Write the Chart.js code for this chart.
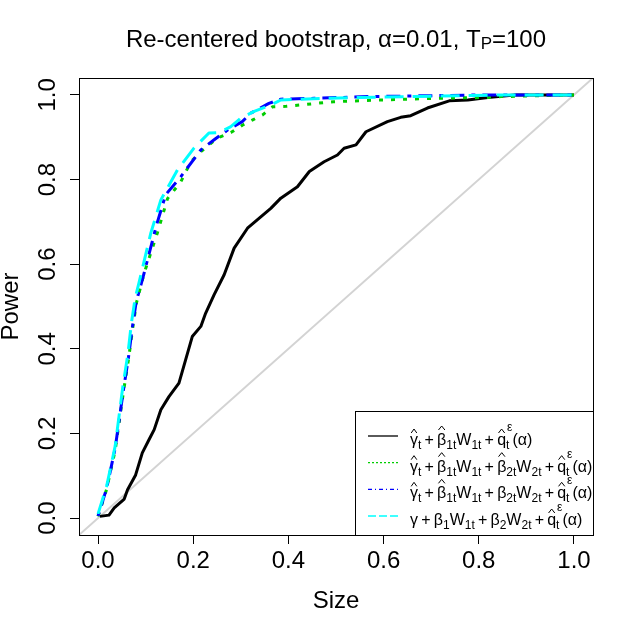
<!DOCTYPE html>
<html>
<head>
<meta charset="utf-8">
<script src="https://cdn.jsdelivr.net/npm/chart.js@4.4.1/dist/chart.umd.min.js"></script>
<style>
  html, body { margin: 0; padding: 0; background: #fff; }
  #wrap { width: 634px; height: 633px; }
</style>
</head>
<body>
<div id="wrap"><canvas id="graph" width="634" height="633"></canvas></div>
<script>
// values: size (x) and power (y) of each test
var tickValues = [0, 0.2, 0.4, 0.6, 0.8, 1];

// solid black
var sizeA = [0.004, 0.023, 0.034, 0.055, 0.062, 0.079, 0.093, 0.107, 0.118, 0.132, 0.149, 0.170, 0.184, 0.198, 0.216, 0.226, 0.244, 0.265, 0.286, 0.314, 0.363, 0.384, 0.419, 0.444, 0.475, 0.503, 0.517, 0.542, 0.563, 0.608, 0.636, 0.657, 0.692, 0.738, 0.777, 0.819, 0.875, 1.0];
var powerA = [0.004, 0.007, 0.024, 0.045, 0.067, 0.102, 0.154, 0.185, 0.209, 0.256, 0.287, 0.319, 0.374, 0.429, 0.453, 0.484, 0.528, 0.575, 0.638, 0.685, 0.732, 0.756, 0.783, 0.819, 0.842, 0.858, 0.874, 0.882, 0.913, 0.937, 0.947, 0.951, 0.969, 0.986, 0.988, 0.994, 1.0, 1.0];

// dotted green
var sizeB = [0, 0.018, 0.036, 0.053, 0.064, 0.073, 0.081, 0.097, 0.125, 0.146, 0.174, 0.195, 0.216, 0.251, 0.279, 0.304, 0.325, 0.346, 0.367, 0.395, 0.495, 0.594, 0.706, 0.819, 0.847, 1.0];
var powerB = [0.004, 0.068, 0.160, 0.295, 0.375, 0.450, 0.510, 0.579, 0.675, 0.755, 0.795, 0.842, 0.866, 0.898, 0.911, 0.929, 0.941, 0.953, 0.972, 0.973, 0.984, 0.988, 0.992, 0.994, 0.996, 1.0];

// dot-dash blue
var sizeC = [0, 0.018, 0.036, 0.053, 0.064, 0.072, 0.080, 0.094, 0.122, 0.142, 0.174, 0.216, 0.244, 0.272, 0.303, 0.321, 0.359, 0.384, 0.454, 0.566, 0.805, 1.0];
var powerC = [0.005, 0.070, 0.165, 0.300, 0.380, 0.450, 0.510, 0.567, 0.689, 0.764, 0.807, 0.870, 0.894, 0.917, 0.937, 0.957, 0.980, 0.990, 0.992, 0.996, 1.0, 1.0];

// dashed cyan
var sizeD = [0, 0.018, 0.036, 0.052, 0.063, 0.070, 0.078, 0.086, 0.111, 0.132, 0.167, 0.202, 0.233, 0.254, 0.279, 0.300, 0.328, 0.363, 0.384, 0.482, 0.594, 0.847, 1.0];
var powerD = [0.010, 0.075, 0.170, 0.310, 0.390, 0.460, 0.520, 0.556, 0.674, 0.752, 0.823, 0.875, 0.910, 0.911, 0.925, 0.945, 0.961, 0.976, 0.988, 0.992, 0.995, 1.0, 1.0];

// 45 degree reference line across the whole plot
var diagX = [-0.04, 1.04];

var font = '"Liberation Sans", Arial, sans-serif';

function pts(xs, ys) {
    return xs.map(function (v, i) { return {x: v, y: ys[i]}; });
}

// legend formulas: [text, kind, sup]; kind 'h' hat on short letter, 'H' hat on tall letter, '_' subscript
var sp = '\u2009+\u2009';
var legendRows = [
    {color: '#000000', dash: [], rows: [['γ','h'],['t','_'],[sp],['β','H'],['1t','_'],['W'],['1t','_'],[sp],['q','h'],['t','_','ε'],['(α)']]},
    {color: '#00CD00', dash: [2, 2], rows: [['γ','h'],['t','_'],[sp],['β','H'],['1t','_'],['W'],['1t','_'],[sp],['β','H'],['2t','_'],['W'],['2t','_'],[sp],['q','h'],['t','_','ε'],['(α)']]},
    {color: '#0000FF', dash: [4, 3, 1, 3], rows: [['γ','h'],['t','_'],[sp],['β','H'],['1t','_'],['W'],['1t','_'],[sp],['β'],['2t','_'],['W'],['2t','_'],[sp],['q','h'],['t','_','ε'],['(α)']]},
    {color: '#00FFFF', dash: [8, 3], rows: [['γ'],[sp],['β'],['1','_'],['W'],['1t','_'],[sp],['β'],['2','_'],['W'],['2t','_'],[sp],['q','h'],['t','_','ε'],['(α)']]}
];

function drawMath(c, parts, x, y, size) {
    var small = Math.round(size * 0.72);
    parts.forEach(function (p) {
        var txt = p[0], kind = p[1] || '';
        var w;
        if (kind === '_') {
            c.font = small + 'px ' + font;
            w = c.measureText(txt).width;
            c.fillText(txt, x, y + 4);
            if (p[2]) {
                c.fillText(p[2], x + 1, y - 14);
                w = Math.max(w, c.measureText(p[2]).width + 1);
            }
        } else {
            c.font = size + 'px ' + font;
            w = c.measureText(txt).width;
            c.fillText(txt, x, y);
            if (kind === 'h' || kind === 'H') {
                var base = y - (kind === 'H' ? 15 : 12);
                c.beginPath();
                c.moveTo(x + w * 0.15, base);
                c.lineTo(x + w * 0.5, base - 4);
                c.lineTo(x + w * 0.85, base);
                c.stroke();
            }
        }
        x += w;
    });
}

var decorations = {
    id: 'decorations',
    afterDraw: function (chart) {
        var c = chart.ctx, a = chart.chartArea;
        var ys = chart.scales.y;
        c.save();
        c.fillStyle = '#000';
        c.strokeStyle = '#000';

        // legend box
        var lx = 355, ly = 411;
        c.fillStyle = '#fff';
        c.fillRect(lx, ly, a.right - lx, a.bottom - ly);
        c.lineWidth = 1;
        c.strokeRect(lx + 0.5, ly + 0.5, a.right - lx, a.bottom - ly);
        c.fillStyle = '#000';
        legendRows.forEach(function (r, i) {
            var yy = 436 + i * 26.67;
            c.save();
            c.strokeStyle = r.color;
            c.lineWidth = 1.3;
            c.setLineDash(r.dash);
            c.beginPath();
            c.moveTo(368, yy);
            c.lineTo(398, yy);
            c.stroke();
            c.restore();
            c.lineWidth = 1;
            c.textAlign = 'left';
            c.textBaseline = 'alphabetic';
            drawMath(c, r.rows, 410, yy + 9, 16);
        });

        // plot frame
        c.lineWidth = 1;
        c.strokeRect(Math.round(a.left) + 0.5, Math.round(a.top) + 0.5, Math.round(a.right - a.left), Math.round(a.bottom - a.top));

        // y tick labels, parallel to the axis
        c.font = '24px ' + font;
        c.textAlign = 'center';
        c.textBaseline = 'alphabetic';
        tickValues.forEach(function (v) {
            c.save();
            c.translate(55, ys.getPixelForValue(v));
            c.rotate(-Math.PI / 2);
            c.fillText(v.toFixed(1), 0, 0);
            c.restore();
        });

        // axis titles
        var cx = (a.left + a.right) / 2;
        c.fillText('Size', cx, 608);
        c.save();
        c.translate(18, (a.top + a.bottom) / 2);
        c.rotate(-Math.PI / 2);
        c.fillText('Power', 0, 0);
        c.restore();

        // main title with subscript P
        var t1 = 'Re-centered bootstrap, α=0.01, T', t2 = 'P', t3 = '=100';
        c.font = '24px ' + font;
        var w1 = c.measureText(t1).width, w3 = c.measureText(t3).width;
        c.font = '17px ' + font;
        var w2 = c.measureText(t2).width;
        var x0 = cx - (w1 + w2 + w3) / 2;
        c.textAlign = 'left';
        c.font = '24px ' + font;
        c.fillText(t1, x0, 47);
        c.font = '17px ' + font;
        c.fillText(t2, x0 + w1, 49);
        c.font = '24px ' + font;
        c.fillText(t3, x0 + w1 + w2, 47);
        c.restore();
    }
};

function setTicks(axis) {
    axis.ticks = tickValues.map(function (v) { return {value: v}; });
}

var myChart = document.getElementById('graph').getContext('2d');

var sizePowerChart = new Chart(myChart, {
    type: 'line',
    data: {
        datasets: [{
            label: 'cyan',
            data: pts(sizeD, powerD),
            borderColor: '#00FFFF',
            borderDash: [19, 9],
            order: 1
        }, {
            label: 'blue',
            data: pts(sizeC, powerC),
            borderColor: '#0000FF',
            borderDash: [4, 7, 14, 7],
            order: 2
        }, {
            label: 'green',
            data: pts(sizeB, powerB),
            borderColor: '#00CD00',
            borderDash: [4, 8],
            order: 3
        }, {
            label: 'black',
            data: pts(sizeA, powerA),
            borderColor: '#000000',
            order: 4
        }, {
            label: 'diagonal',
            data: pts(diagX, diagX),
            borderColor: '#D3D3D3',
            borderWidth: 2,
            order: 5
        }]
    },
    options: {
        responsive: false,
        animation: false,
        events: [],
        layout: {autoPadding: false, padding: {left: 0, top: 78, right: 41, bottom: 0}},
        elements: {
            line: {borderWidth: 3, tension: 0, fill: false, borderCapStyle: 'butt', borderJoinStyle: 'round'},
            point: {radius: 0}
        },
        plugins: {legend: {display: false}, tooltip: {enabled: false}, title: {display: false}},
        scales: {
            x: {
                type: 'linear',
                min: -0.04,
                max: 1.04,
                afterBuildTicks: setTicks,
                afterFit: function (s) { s.height = 98; },
                grid: {drawOnChartArea: false, drawTicks: true, tickLength: 9, color: '#000', lineWidth: 1},
                border: {display: false},
                ticks: {
                    font: {family: font, size: 24},
                    color: '#000',
                    padding: 3,
                    maxRotation: 0,
                    autoSkip: false,
                    callback: function (v) { return Number(v).toFixed(1); }
                }
            },
            y: {
                type: 'linear',
                min: -0.04,
                max: 1.04,
                afterBuildTicks: setTicks,
                afterFit: function (s) { s.width = 79; },
                grid: {drawOnChartArea: false, drawTicks: true, tickLength: 9, color: '#000', lineWidth: 1},
                border: {display: false},
                ticks: {display: false}
            }
        }
    },
    plugins: [decorations]
});
</script>
</body>
</html>
